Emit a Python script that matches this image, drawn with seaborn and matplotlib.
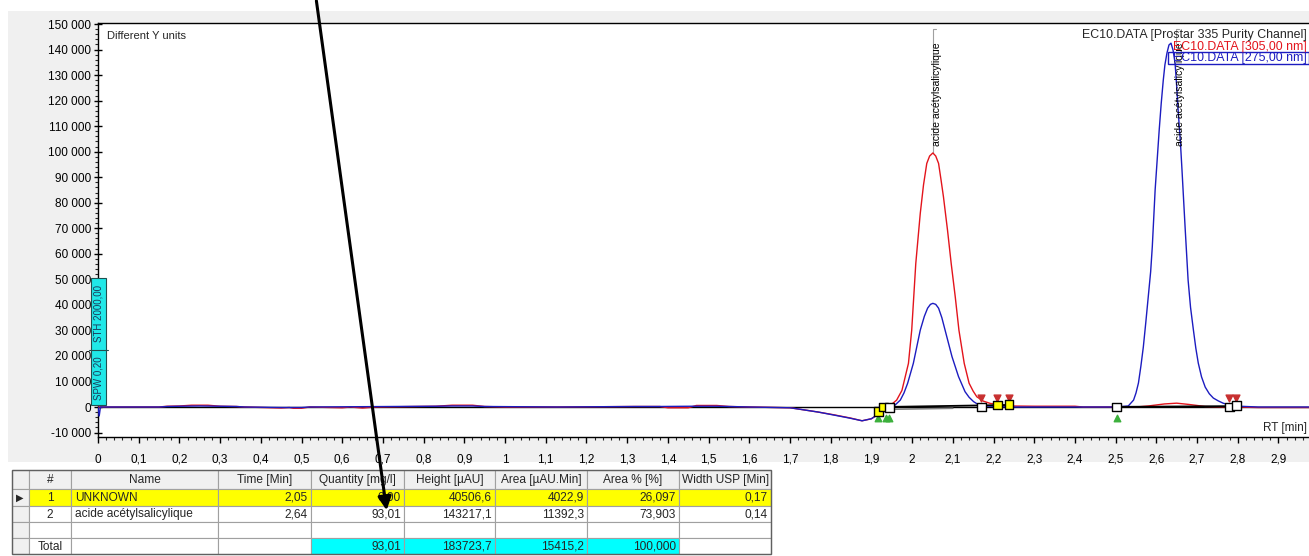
import numpy as np
import pandas as pd
import matplotlib
matplotlib.use("Agg")
import matplotlib.pyplot as plt
import matplotlib.ticker as mticker
from matplotlib.patches import Rectangle, FancyArrowPatch
import seaborn as sns

# --- chromatogram traces (RT in min, signal in µAU) ---
rt_305 = [0.0, 0.15, 0.17, 0.20, 0.23, 0.27, 0.30, 0.34, 0.36, 0.45, 0.47, 0.48, 0.50, 0.52,
          0.60, 0.62, 0.65, 0.68, 0.83, 0.87, 0.92, 0.95, 1.00, 1.13, 1.32, 1.38, 1.40, 1.45,
          1.47, 1.52, 1.55, 1.60, 1.70, 1.725, 1.77, 1.806, 1.848, 1.877, 1.90, 1.914, 1.93,
          1.94, 1.953, 1.962, 1.975, 1.991, 1.999, 2.009, 2.020, 2.028, 2.036, 2.043, 2.051,
          2.058, 2.065, 2.071, 2.077, 2.087, 2.096, 2.106, 2.115, 2.128, 2.140, 2.150, 2.159,
          2.175, 2.192, 2.24, 2.30, 2.40, 2.42, 2.55, 2.58, 2.62, 2.65, 2.68, 2.72, 2.76, 2.80,
          2.85, 2.975]
val_305 = [0, 0, 300, 400, 700, 700, 300, 200, 0, -400, -200, -500, -500, 0,
           -300, 0, -400, 0, 300, 700, 700, 200, 0, 0, 200, 200, -300, -300,
           600, 600, 200, 0, -300, -900, -2000, -3000, -4300, -5400, -4600, -3100, -1500,
           0, 1500, 2700, 6500, 17100, 30100, 56200, 75800, 87000, 95400, 98300, 99500,
           98300, 95400, 89000, 82300, 69200, 56200, 43100, 30100, 17100, 9300, 6200, 4000,
           2300, 1400, 400, 300, 300, 0, 0, 400, 1200, 1500, 1000, 200, 0, 0,
           -200, -200]

rt_275 = [0.0, 0.003, 0.006, 0.15, 0.17, 0.20, 0.25, 0.30, 0.34, 0.36, 0.45, 0.50, 0.52,
          0.83, 0.87, 0.92, 0.95, 1.13, 1.32, 1.38, 1.46, 1.52, 1.55, 1.60, 1.70, 1.725,
          1.77, 1.806, 1.848, 1.877, 1.90, 1.914, 1.938, 1.955, 1.971, 1.980, 1.989, 2.003,
          2.020, 2.030, 2.038, 2.045, 2.051, 2.058, 2.065, 2.073, 2.081, 2.098, 2.114, 2.130,
          2.140, 2.151, 2.162, 2.175, 2.25, 2.50, 2.531, 2.544, 2.550, 2.556, 2.562, 2.568,
          2.574, 2.580, 2.586, 2.590, 2.597, 2.607, 2.612, 2.617, 2.621, 2.626, 2.631, 2.636,
          2.641, 2.646, 2.650, 2.654, 2.659, 2.663, 2.667, 2.671, 2.678, 2.684, 2.691, 2.697,
          2.703, 2.711, 2.720, 2.730, 2.740, 2.752, 2.764, 2.789, 2.85, 2.975]
val_275 = [0, -3500, 0, 0, 200, 300, 400, 300, 200, 0, -200, -200, 0,
           300, 400, 400, 200, 0, 200, 200, 300, 300, 200, 0, -300, -900,
           -2000, -3100, -4400, -5400, -4600, -3100, -1200, 300, 2700, 5500, 9300, 17100,
           30100, 35500, 38700, 40200, 40600, 40200, 38700, 35000, 30100, 19700, 11900, 6000,
           3800, 2100, 1000, 400, 0, 0, 400, 2700, 5500, 9400, 16000, 23500,
           33000, 43000, 53000, 62700, 85000, 108500, 119000, 128000, 134000, 138600, 141800, 142500,
           139800, 134700, 125500, 115000, 104000, 92800, 81000, 69300, 49700, 39000, 30200, 23000,
           17200, 11800, 7800, 5200, 3500, 2400, 1500, 400, 0, 0]

# integration markers
bl_rt = [1.917, 1.929, 1.944, 2.170, 2.209, 2.238, 2.503, 2.779, 2.796]
bl_val = [-1900, 0, -300, 0, 800, 1000, 0, 0, 500]
bl_fill = ["#ffff00", "#ffff00", "white", "white", "#ffff00", "#ffff00", "white", "white", "white"]
start_rt = [1.917, 1.935, 1.944, 2.503]
end_rt = [2.170, 2.209, 2.238, 2.779, 2.796]
peak_rt = [2.061, 2.658]
peak_name = "acide acétylsalicylique"

# results table
tbl_header = ["#", "Name", "Time [Min]", "Quantity [mg/l]", "Height [µAU]",
              "Area [µAU.Min]", "Area % [%]", "Width USP [Min]"]
tbl_rows = [["1", "UNKNOWN", "2,05", "0,00", "40506,6", "4022,9", "26,097", "0,17"],
            ["2", "acide acétylsalicylique", "2,64", "93,01", "143217,1", "11392,3", "73,903", "0,14"],
            ["", "", "", "", "", "", "", ""],
            ["Total", "", "", "93,01", "183723,7", "15415,2", "100,000", ""]]

RED = "#e3141c"
BLUE = "#1c1cc0"
W, H = 1309, 556


def fx(px):
    return px / W


def fy(py):
    return 1 - py / H


sns.set_theme(style="ticks")
plt.rcParams['font.family'] = ['Liberation Sans', 'DejaVu Sans']

fig = plt.figure(figsize=(W / 100, H / 100), dpi=100)
fig.patch.set_facecolor("white")
fig.add_artist(Rectangle((fx(8), fy(462)), fx(1309 - 8), 451 / H, transform=fig.transFigure,
                         facecolor="#f0f0f0", edgecolor="none", zorder=0))

ax = fig.add_axes([fx(98), fy(437), fx(1309 - 98), (437 - 22.5) / H])
ax.set_facecolor("white")

df305 = pd.DataFrame({"RT": rt_305, "signal": val_305})
df275 = pd.DataFrame({"RT": rt_275, "signal": val_275})
ax.axhline(0, color="black", lw=1.0, zorder=1)
sns.lineplot(data=df305, x="RT", y="signal", ax=ax, color=RED, lw=1.0, estimator=None, zorder=3)
sns.lineplot(data=df275, x="RT", y="signal", ax=ax, color=BLUE, lw=1.0, estimator=None, zorder=4)

# baselines of integration
ax.plot([1.944, 2.10], [-900, -500], color="#808080", lw=1.2, zorder=2)
ax.plot([1.929, 2.238], [0, 800], color="black", lw=1.3, zorder=5)
ax.plot([2.503, 2.796], [0, 300], color="black", lw=1.5, zorder=5)

ax.scatter(start_rt, [-4200] * len(start_rt), marker="^", s=22, color="#3cb03c", zorder=6)
ax.scatter(end_rt, [3600] * len(end_rt), marker="v", s=24, color="#c83030", zorder=6)
ax.scatter(bl_rt, bl_val, marker="s", s=40, facecolors=bl_fill, edgecolors="black", linewidths=1.0, zorder=7)

# peak labels
for rt, top in zip(peak_rt, [99500, 142500]):
    ax.plot([rt - 0.01, rt - 0.01, rt - 0.002], [top, 148000, 148000], color="#a0a0a0", lw=0.8, zorder=2)
    ax.text(rt, 142800, peak_name, rotation=90, ha="center", va="top", fontsize=7.5, color="black", zorder=8)

ax.set_xlim(0, 2.975)
ax.set_ylim(-11750, 150600)
ax.xaxis.set_major_locator(mticker.MultipleLocator(0.1))
ax.xaxis.set_minor_locator(mticker.MultipleLocator(0.02))
ax.yaxis.set_major_locator(mticker.MultipleLocator(10000))
ax.yaxis.set_minor_locator(mticker.MultipleLocator(2000))
ax.xaxis.set_major_formatter(mticker.FuncFormatter(lambda v, p: f"{v:.1f}".rstrip("0").rstrip(".").replace(".", ",")))
ax.yaxis.set_major_formatter(mticker.FuncFormatter(lambda v, p: f"{int(round(v)):,}".replace(",", " ")))
ax.tick_params(axis="x", direction="out", length=4, width=1, pad=8, labelsize=8.5, colors="black")
ax.tick_params(axis="x", which="minor", direction="out", length=2.5, width=0.8)
ax.tick_params(axis="y", direction="inout", length=6, width=1, pad=2, labelsize=8.5, colors="black")
ax.tick_params(axis="y", which="minor", direction="out", length=2.5, width=0.8)
ax.set_xlabel("")
ax.set_ylabel("")
for s in ["left", "bottom", "top"]:
    ax.spines[s].set_color("black")
    ax.spines[s].set_linewidth(1.0)
ax.spines["right"].set_visible(False)

fig.text(fx(107), fy(36), "Different Y units", fontsize=8, va="center", ha="left")
fig.text(fx(1307), fy(428), "RT [min]", fontsize=8.5, va="center", ha="right")
fig.text(fx(1307), fy(35), "EC10.DATA [Prostar 335 Purity Channel]", fontsize=8.9, va="center", ha="right")
fig.text(fx(1307), fy(47), "EC10.DATA [305,00 nm]", fontsize=8.9, va="center", ha="right", color=RED)
fig.text(fx(1307), fy(58), "EC10.DATA [275,00 nm]", fontsize=8.9, va="center", ha="right", color=BLUE)
fig.add_artist(Rectangle((fx(1168), fy(64)), fx(1309 - 1168), 12 / H, transform=fig.transFigure,
                         facecolor="none", edgecolor=BLUE, lw=1.0))

# cyan SPW / STH marker on the y axis
fig.add_artist(Rectangle((fx(91), fy(405)), fx(15), 127 / H, transform=fig.transFigure,
                         facecolor="#20e8e8", edgecolor="#205050", lw=0.8, zorder=5))
fig.add_artist(plt.Line2D([fx(89), fx(108)], [fy(350), fy(350)], transform=fig.transFigure, color="#205050", lw=0.8, zorder=6))
fig.text(fx(98.5), fy(378), "SPW 0,20", rotation=90, fontsize=7, ha="center", va="center", color="#1a3a5a", zorder=7)
fig.text(fx(98.5), fy(314), "STH 2000,00", rotation=90, fontsize=7, ha="center", va="center", color="#1a3a5a", zorder=7)

# results table
col_x = [12, 29, 71, 218, 311, 404, 495, 587, 679, 771]
row_y = [470, 489, 506, 522, 538, 554]
for r in range(5):
    y0, y1 = row_y[r], row_y[r + 1]
    for c in range(9):
        x0, x1 = col_x[c], col_x[c + 1]
        face = "white"
        if r == 0 or c == 0:
            face = "#f0f0f0"
        elif r == 1:
            face = "#ffff00"
        elif r == 4 and 4 <= c <= 7:
            face = "#00ffff"
        fig.add_artist(Rectangle((fx(x0), fy(y1)), fx(x1 - x0), (y1 - y0) / H, transform=fig.transFigure,
                                 facecolor=face, edgecolor="#a0a0a0", lw=0.8, zorder=2))
        if c == 0:
            if r == 1:
                fig.text(fx(20), fy((y0 + y1) / 2), "▶", fontsize=7, ha="center", va="center", family="DejaVu Sans")
            continue
        txt = tbl_header[c - 1] if r == 0 else tbl_rows[r - 1][c - 1]
        if not txt:
            continue
        yc = fy((y0 + y1) / 2 + 0.5)
        if r == 0:
            if c == 8:
                t = fig.text(fx(x0 + 3), yc, txt, fontsize=8.6, ha="left", va="center")
                clip = Rectangle((fx(x0), fy(y1)), fx(x1 - x0 - 1), (y1 - y0) / H, transform=fig.transFigure,
                                 facecolor="none", edgecolor="none")
                fig.add_artist(clip)
                t.set_clip_path(clip)
            else:
                fig.text(fx((x0 + x1) / 2), yc, txt, fontsize=8.6, ha="center", va="center")
        elif c == 1:
            fig.text(fx((x0 + x1) / 2), yc, txt, fontsize=8.6, ha="center", va="center")
        elif c == 2:
            fig.text(fx(x0 + 4), yc, txt, fontsize=8.6, ha="left", va="center")
        else:
            fig.text(fx(x1 - 3), yc, txt, fontsize=8.6, ha="right", va="center")
fig.add_artist(Rectangle((fx(12), fy(554)), fx(771 - 12), 84 / H, transform=fig.transFigure,
                         facecolor="none", edgecolor="#606060", lw=1.0, zorder=3))

# pointer arrow drawn over the screenshot
fig.add_artist(FancyArrowPatch((fx(316), fy(-2)), (fx(387), fy(513)),
                               transform=fig.transFigure, arrowstyle="-|>,head_length=8,head_width=4",
                               color="black", lw=2.2, zorder=20))

fig.savefig("out.png", dpi=100)
